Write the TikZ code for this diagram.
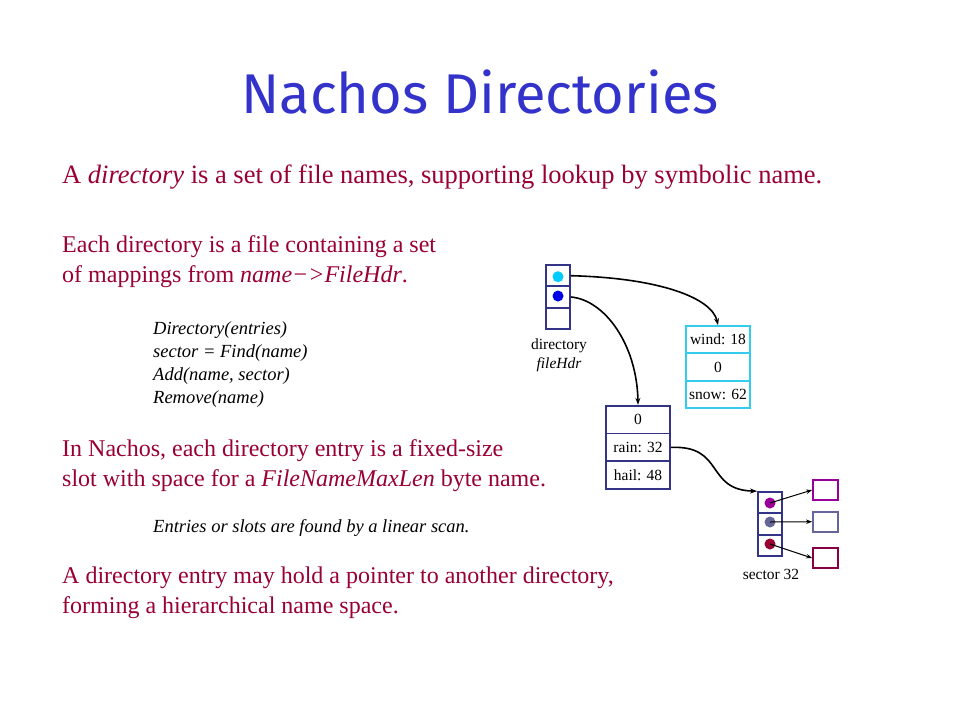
\documentclass[tikz,border=0pt]{standalone}
\usepackage{fontspec}
\setmainfont{Liberation Serif}
\newfontfamily\titlefont{Fira Sans}
\usetikzlibrary{arrows.meta}
\definecolor{navy}{RGB}{51,51,136}
\definecolor{cyanbox}{RGB}{51,204,238}
\definecolor{cyandot}{RGB}{0,204,255}
\definecolor{bluedot}{RGB}{0,0,230}
\definecolor{crimson}{RGB}{153,0,51}
\definecolor{titleblue}{RGB}{51,51,204}
\definecolor{purp}{RGB}{153,0,153}
\definecolor{greyblue}{RGB}{102,102,153}
\definecolor{maroonbox}{RGB}{136,0,68}
\begin{document}
\begin{tikzpicture}[x=1pt,y=-1pt,
  body/.style={anchor=base west,inner sep=0,text=crimson,font=\fontsize{24}{30}\selectfont},
  code/.style={anchor=base west,inner sep=0,text=black,font=\fontsize{18.5}{23}\selectfont\itshape},
  cell/.style={draw=navy,line width=1.8pt,inner sep=0,minimum width=24pt,minimum height=21.33pt},
  wcell/.style={draw=cyanbox,line width=1.8pt,inner sep=0,minimum width=64pt,minimum height=27.3pt,font=\fontsize{15.5}{17}\selectfont},
  rcell/.style={draw=navy,line width=1.8pt,inner sep=0,minimum width=64pt,minimum height=27.8pt,font=\fontsize{15.5}{17}\selectfont},
  dot/.style={circle,fill=#1,inner sep=0,minimum size=11pt},
  sbox/.style={draw=#1,line width=1.8pt,inner sep=0,minimum width=25pt,minimum height=20pt},
  lbl/.style={inner sep=0,font=\fontsize{15.5}{17}\selectfont},
  arr/.style={line width=1.6pt,-{Stealth[length=7pt,width=5pt]}},
  sarr/.style={line width=1pt,-{Stealth[length=6pt,width=4.5pt]}}
]
\useasboundingbox[fill=white] (0,0) rectangle (960,720);

% title
\node[inner sep=0,text=titleblue,font=\titlefont\fontsize{56}{62}\selectfont] (title) at (480,92) {Nachos Directories};

% body text
\node[body,font=\fontsize{26.5}{30}\selectfont] (t1) at (62,183) {A \textit{directory} is a set of file names, supporting lookup by symbolic name.};
\node[body] (t2) at (62,252) {Each directory is a file containing a set};
\node[body] (t3) at (62,282) {of mappings from \textit{name−>FileHdr}.};
\node[code] (c1) at (153,334) {Directory(entries)};
\node[code] (c2) at (153,357) {sector = Find(name)};
\node[code] (c3) at (153,380) {Add(name, sector)};
\node[code] (c4) at (153,403) {Remove(name)};
\node[body] (t4) at (62,456) {In Nachos, each directory entry is a fixed-size};
\node[body] (t5) at (62,486) {slot with space for a \textit{FileNameMaxLen} byte name.};
\node[code] (c5) at (153,532) {Entries or slots are found by a linear scan.};
\node[body] (t6) at (62,583) {A directory entry may hold a pointer to another directory,};
\node[body] (t7) at (62,613) {forming a hierarchical name space.};

% directory fileHdr
\node[cell] (d1) at (558,275.7) {};
\node[cell] (d2) at (558,297) {};
\node[cell] (d3) at (558,318.3) {};
\node[dot=cyandot] (dc) at (558,276.7) {};
\node[dot=bluedot] (db) at (558,296) {};
\node[lbl,anchor=base] (dl1) at (559,349) {directory};
\node[lbl,anchor=base,font=\fontsize{15.5}{17}\selectfont\itshape] (dl2) at (559,368) {fileHdr};

% wind box
\node[wcell] (w1) at (718,339.7) {wind: 18};
\node[wcell] (w2) at (718,367) {0};
\node[wcell] (w3) at (718,394.3) {snow: 62};

% rain box
\node[rcell] (r1) at (638,419.6) {0};
\node[rcell] (r2) at (638,447.4) {rain: 32};
\node[rcell] (r3) at (638,475.2) {hail: 48};

% sector box
\node[cell] (s1) at (770,502.7) {};
\node[cell] (s2) at (770,524) {};
\node[cell] (s3) at (770,545.3) {};
\node[dot=purp] (sp) at (770,503) {};
\node[dot=greyblue] (sg) at (770,522) {};
\node[dot=crimson] (sc) at (770,544) {};
\node[lbl,anchor=base] (sl) at (771,579) {sector 32};

% data blocks
\node[sbox=purp] (b1) at (825.5,490) {};
\node[sbox=greyblue] (b2) at (825.5,521.7) {};
\node[sbox=maroonbox] (b3) at (825.5,558) {};

% connectors
\draw[arr] (d1.east) .. controls (660,278) and (712,298) .. (w1.north);
\draw[arr] (d2.east) .. controls (605,300) and (637,345) .. (r1.north);
\draw[arr] (r2.east) .. controls (725,445) and (705,490) .. (s1.north west);
\draw[sarr] (sp.center) -- (b1.west);
\draw[sarr] (sg.center) -- (b2.west);
\draw[sarr] (sc.center) -- (b3.west);
\end{tikzpicture}
\end{document}
